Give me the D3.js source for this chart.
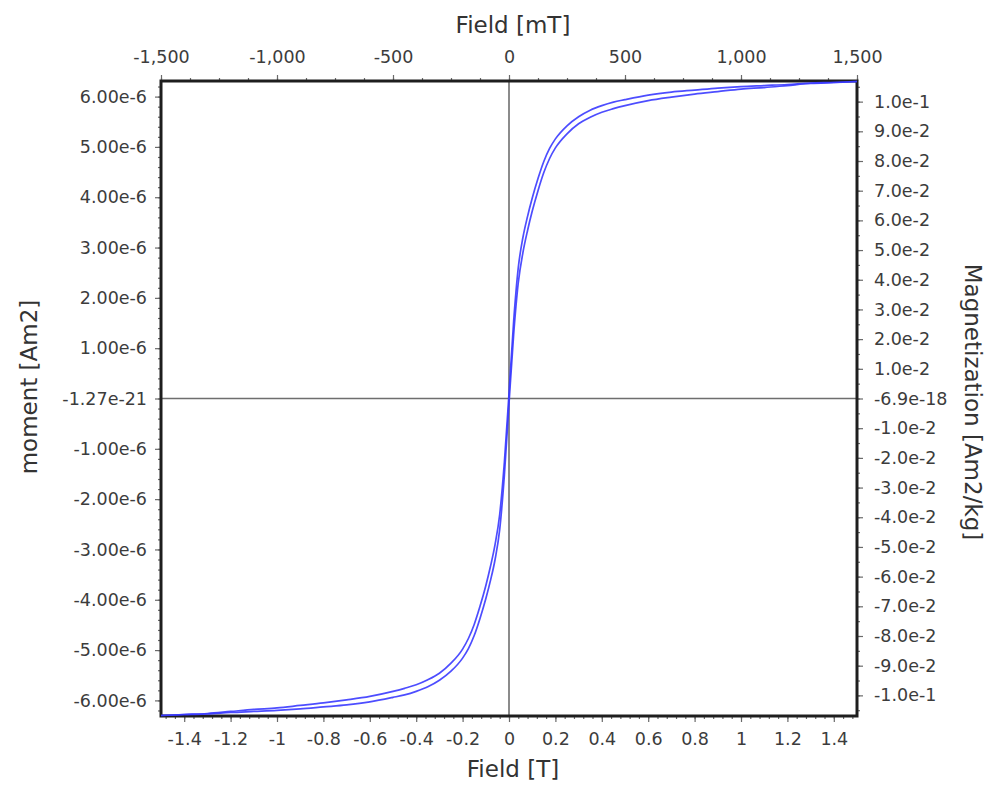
<!DOCTYPE html>
<html><head><meta charset="utf-8">
<script src="https://cdn.jsdelivr.net/npm/d3@7"></script>
<style>
body{margin:0;background:#fff}
svg{display:block}
text{font-family:"DejaVu Sans",sans-serif}
</style>
</head><body>
<svg id="c" width="991" height="786"></svg>
<script>
// ---- data (field in tesla, moment in micro-Am2) ----
const fieldT = [-1.5,-1.4,-1.3,-1.2,-1.1,-1.0,-0.9,-0.8,-0.7,-0.6,-0.5,-0.45,-0.4,-0.35,-0.3,-0.25,-0.2,-0.175,-0.15,-0.125,-0.1,-0.08,-0.06,-0.04,-0.02,0,0.02,0.04,0.06,0.08,0.1,0.125,0.15,0.175,0.2,0.25,0.3,0.35,0.4,0.45,0.5,0.6,0.7,0.8,0.9,1.0,1.1,1.2,1.3,1.4,1.5];
const momentDescMicro = [-6.30,-6.28,-6.26,-6.22,-6.18,-6.15,-6.10,-6.05,-5.99,-5.92,-5.82,-5.76,-5.69,-5.59,-5.46,-5.26,-4.98,-4.77,-4.49,-4.13,-3.72,-3.34,-2.90,-2.30,-1.27,0.10,1.53,2.60,3.20,3.62,3.98,4.37,4.71,4.97,5.16,5.42,5.60,5.73,5.82,5.89,5.94,6.03,6.09,6.13,6.17,6.20,6.22,6.24,6.27,6.28,6.30];
const momentAscMicro = [-6.30,-6.28,-6.27,-6.24,-6.22,-6.20,-6.17,-6.13,-6.09,-6.03,-5.94,-5.89,-5.82,-5.73,-5.60,-5.42,-5.16,-4.97,-4.71,-4.37,-3.98,-3.62,-3.20,-2.60,-1.53,-0.10,1.27,2.30,2.90,3.34,3.72,4.13,4.49,4.77,4.98,5.26,5.46,5.59,5.69,5.76,5.82,5.92,5.99,6.05,6.10,6.15,6.18,6.22,6.26,6.28,6.30];

const sampleMassKg = 5.9e-5;
const momentLimit = 6.31e-6;
const fieldLimitT = 1.5;

const leftTickValues = [-6e-6,-5e-6,-4e-6,-3e-6,-2e-6,-1e-6,0,1e-6,2e-6,3e-6,4e-6,5e-6,6e-6];
const leftTickLabels = ["-6.00e-6","-5.00e-6","-4.00e-6","-3.00e-6","-2.00e-6","-1.00e-6","-1.27e-21","1.00e-6","2.00e-6","3.00e-6","4.00e-6","5.00e-6","6.00e-6"];
const rightTickValues = [-0.1,-0.09,-0.08,-0.07,-0.06,-0.05,-0.04,-0.03,-0.02,-0.01,0,0.01,0.02,0.03,0.04,0.05,0.06,0.07,0.08,0.09,0.1];
const rightTickLabels = ["-1.0e-1","-9.0e-2","-8.0e-2","-7.0e-2","-6.0e-2","-5.0e-2","-4.0e-2","-3.0e-2","-2.0e-2","-1.0e-2","-6.9e-18","1.0e-2","2.0e-2","3.0e-2","4.0e-2","5.0e-2","6.0e-2","7.0e-2","8.0e-2","9.0e-2","1.0e-1"];
const bottomTickValues = [-1.4,-1.2,-1.0,-0.8,-0.6,-0.4,-0.2,0,0.2,0.4,0.6,0.8,1.0,1.2,1.4];
const bottomTickLabels = ["-1.4","-1.2","-1","-0.8","-0.6","-0.4","-0.2","0","0.2","0.4","0.6","0.8","1","1.2","1.4"];
const topTickValues = [-1500,-1000,-500,0,500,1000,1500];
const topTickLabels = ["-1,500","-1,000","-500","0","500","1,000","1,500"];

// ---- layout ----
const L = 161, R = 857, T = 81, B = 716;
const svg = d3.select("#c");

const x = d3.scaleLinear().domain([-fieldLimitT, fieldLimitT]).range([L, R]);
const xTop = d3.scaleLinear().domain([-fieldLimitT*1000, fieldLimitT*1000]).range([L, R]);
const y = d3.scaleLinear().domain([-momentLimit, momentLimit]).range([B, T]);
const yR = d3.scaleLinear().domain([-momentLimit/sampleMassKg, momentLimit/sampleMassKg]).range([B, T]);

const tickColor = "#6a6a6a", labelColor = "#3c3c3c", fs = "17.5px";

function styleAxis(g){
  g.select(".domain").remove();
  g.selectAll(".tick line").attr("stroke", tickColor).attr("stroke-width", 1.2);
  g.selectAll(".tick text").attr("fill", labelColor).style("font-size", fs).style("font-family", '"DejaVu Sans",sans-serif');
}

// minor ticks
const minorTop = d3.range(-1500, 1500.1, 125);
const minorBottom = d3.range(-1.48, 1.5, 0.04).map(v => +v.toFixed(2));
const minorLeft = d3.range(-6.2e-6, 6.3e-6, 0.2e-6);
const minorRight = d3.range(-0.105, 0.1051, 0.005);

svg.append("g").attr("transform", `translate(0,${T})`)
  .call(d3.axisTop(xTop).tickValues(minorTop).tickFormat("").tickSize(3).tickSizeOuter(0)).call(styleAxis);
svg.append("g").attr("transform", `translate(0,${T})`)
  .call(d3.axisTop(xTop).tickValues(topTickValues).tickFormat((d,i)=>topTickLabels[i]).tickSize(6).tickPadding(12).tickSizeOuter(0)).call(styleAxis);

svg.append("g").attr("transform", `translate(0,${B})`)
  .call(d3.axisBottom(x).tickValues(minorBottom).tickFormat("").tickSize(3).tickSizeOuter(0)).call(styleAxis);
svg.append("g").attr("transform", `translate(0,${B})`)
  .call(d3.axisBottom(x).tickValues(bottomTickValues).tickFormat((d,i)=>bottomTickLabels[i]).tickSize(6).tickPadding(11).tickSizeOuter(0)).call(styleAxis);

svg.append("g").attr("transform", `translate(${L},0)`)
  .call(d3.axisLeft(y).tickValues(minorLeft).tickFormat("").tickSize(3).tickSizeOuter(0)).call(styleAxis);
svg.append("g").attr("transform", `translate(${L},0)`)
  .call(d3.axisLeft(y).tickValues(leftTickValues).tickFormat((d,i)=>leftTickLabels[i]).tickSize(6).tickPadding(8).tickSizeOuter(0)).call(styleAxis);

svg.append("g").attr("transform", `translate(${R},0)`)
  .call(d3.axisRight(yR).tickValues(minorRight).tickFormat("").tickSize(3).tickSizeOuter(0)).call(styleAxis);
svg.append("g").attr("transform", `translate(${R},0)`)
  .call(d3.axisRight(yR).tickValues(rightTickValues).tickFormat((d,i)=>rightTickLabels[i]).tickSize(6).tickPadding(11).tickSizeOuter(0)).call(styleAxis);

// zero lines
svg.append("line").attr("x1", x(0)).attr("x2", x(0)).attr("y1", T).attr("y2", B)
  .attr("stroke", "#6e6e6e").attr("stroke-width", 1.6);
svg.append("line").attr("x1", L).attr("x2", R).attr("y1", y(0)).attr("y2", y(0))
  .attr("stroke", "#6e6e6e").attr("stroke-width", 1.6);

// frame
svg.append("rect").attr("x", L).attr("y", T).attr("width", R-L).attr("height", B-T)
  .attr("fill", "none").attr("stroke", "#1e1e1e").attr("stroke-width", 3);

// curves
const line = d3.line().x(d => x(d[0])).y(d => y(d[1]*1e-6)).curve(d3.curveMonotoneX);
const desc = fieldT.map((f,i)=>[f, momentDescMicro[i]]);
const asc = fieldT.map((f,i)=>[f, momentAscMicro[i]]);
[desc, asc].forEach(data => {
  svg.append("path").datum(data).attr("d", line)
    .attr("fill", "none").attr("stroke", "#3a3aff").attr("stroke-width", 1.7)
    .attr("stroke-opacity", 0.9).attr("stroke-linejoin", "round");
});

// titles
const titleColor = "#333";
svg.append("text").attr("x", 513).attr("y", 33).attr("text-anchor", "middle")
  .attr("fill", titleColor).style("font-size", "23px").text("Field [mT]");
svg.append("text").attr("x", 513).attr("y", 777).attr("text-anchor", "middle")
  .attr("fill", titleColor).style("font-size", "23px").text("Field [T]");
svg.append("text").attr("transform", "translate(37,387) rotate(-90)").attr("text-anchor", "middle")
  .attr("fill", titleColor).style("font-size", "23px").text("moment [Am2]");
svg.append("text").attr("transform", "translate(965,402) rotate(90)").attr("text-anchor", "middle")
  .attr("fill", titleColor).style("font-size", "23px").text("Magnetization [Am2/kg]");
</script>
</body></html>
